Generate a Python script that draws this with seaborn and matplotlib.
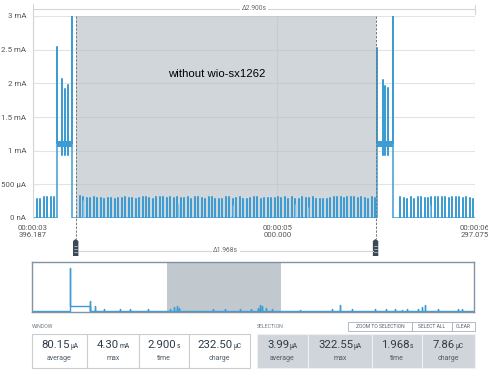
import numpy as np
import pandas as pd
import matplotlib
matplotlib.use('Agg')
import matplotlib.pyplot as plt
import matplotlib.transforms as mtransforms
from matplotlib.patches import Rectangle, Polygon
from matplotlib.offsetbox import TextArea, HPacker, AnnotationBbox
import seaborn as sns

# time window shown in the main chart (s) and the selected range
window_start = 3.396187
window_end = 6.297075
sel_start = 3.6764
sel_end = 5.6444

# idle pulses (uA), roughly one every 22.8 ms
pulse_period = 0.0228
pre_start = 3.3982
pre_heights = [293, 282, 282, 308, 308, 308, 316]
mid_start = 3.7046
mid_heights = [322, 307, 304, 292, 307, 292, 292, 282, 292, 292, 282, 304, 292, 307, 292,
               292, 282, 292, 307, 307, 292, 282, 307, 307, 307, 292, 307, 292, 317,
               292, 292, 307, 282, 307, 307, 292, 282, 307, 307, 278, 282, 282, 307, 307,
               282, 292, 307, 282, 282, 292, 307, 307, 282, 292, 292, 292, 292, 307, 292,
               307, 282, 307, 282, 282, 317, 292, 292, 307, 282, 278, 282, 282,
               292, 307, 307, 307, 292, 317, 307, 307, 292, 307, 292, 282, 307, 292]
post_start = 5.8063
post_heights = [307, 292, 282, 307, 282, 307, 307, 292, 292, 307, 307, 317, 307, 307, 292,
                317, 307, 307, 292, 307, 292, 282]

# shorter secondary pulses and tiny blips (s, uA)
second_times = [3.7243, 4.3476, 4.7085, 5.1153, 5.2006, 6.0012]
second_heights = [260, 208, 190, 208, 160, 200]
blip_times = [4.4546, 4.6999, 4.8134, 4.9773]
blip_heights = [30, 30, 30, 30]

# radio bursts (s, mA)
plateau_level = 1.11
plateau_dip = 0.94
burst_a_on, burst_a_off = 3.5556, 3.6554
burst_a_times = [3.5556, 3.5884, 3.6081, 3.6278, 3.6540]
burst_a_peaks = [2.54, 2.07, 1.92, 1.98, 4.30]
burst_b_on, burst_b_off = 5.6534, 5.7564
burst_b_times = [5.6534, 5.6908, 5.7078, 5.7256, 5.7564]
burst_b_peaks = [2.53, 2.05, 1.96, 1.93, 4.30]

y_ticks = [0, 0.5, 1, 1.5, 2, 2.5, 3]
y_labels = ['0 nA', '500 µA', '1 mA', '1.5 mA', '2 mA', '2.5 mA', '3 mA']
x_ticks = [window_start, 5.0, window_end]
x_labels = ['00:00:03\n396.187', '00:00:05\n000.000', '00:00:06\n297.075']

# overview strip (s, mA)
mini_end = 11.16
mini_burst_on, mini_burst_off = 0.96, 1.46
mini_burst_peak = 8.6
mini_spike_times = [1.46, 1.59]
mini_spike_heights = [2.0, 1.0]
mini_blip_times = [1.82, 2.22, 2.47, 2.93, 3.48, 3.59, 3.66, 3.71, 4.57, 4.87, 5.25, 5.53,
                   5.71, 5.76, 5.81, 5.91, 6.06, 6.77, 7.58, 7.78, 8.08, 8.66, 8.94, 9.17,
                   9.34, 9.47, 9.75, 9.85, 9.92, 10.25, 10.76, 10.86]
mini_blip_heights = [0.35, 0.35, 0.35, 0.35, 0.5, 0.8, 1.1, 0.6, 0.4, 0.4, 0.4, 0.4,
                     0.65, 1.2, 1.1, 0.6, 0.4, 0.3, 0.5, 1.2, 0.4, 0.4, 0.4, 0.4,
                     0.3, 0.4, 0.5, 0.8, 1.2, 0.4, 0.4, 0.4]

window_stats = [('80.15', 'µA', 'average'), ('4.30', 'mA', 'max'),
                ('2.900', 's', 'time'), ('232.50', 'µC', 'charge')]
selection_stats = [('3.99', 'µA', 'average'), ('322.55', 'µA', 'max'),
                   ('1.968', 's', 'time'), ('7.86', 'µC', 'charge')]

sns.set_theme(style='white')
plt.rcParams['font.family'] = ['Roboto', 'DejaVu Sans']

BLUE = '#3d9dd3'
W, H = 488, 375
fig = plt.figure(figsize=(W / 100, H / 100), dpi=100, facecolor='white')


def rect(x0, y0, x1, y1):
    return [x0 / W, 1 - y1 / H, (x1 - x0) / W, (y1 - y0) / H]


ui = fig.add_axes([0, 0, 1, 1], zorder=0)
ui.set_xlim(0, W)
ui.set_ylim(H, 0)
ui.axis('off')

# ---------------- main trace ----------------
xs, ys = [window_start], [0.0]


def add_pulses(start, heights):
    for i, h in enumerate(heights):
        t = start + i * pulse_period
        xs.extend([t, t, t])
        ys.extend([0, h / 1000, 0])


def add_burst(on, off, times, peaks):
    xs.extend([on, on])
    ys.extend([0, plateau_level])
    for t, p in zip(times, peaks):
        xs.extend([t, t, t, t])
        ys.extend([plateau_level, p, plateau_dip, plateau_level])
    xs.extend([off, off])
    ys.extend([plateau_level, 0])


add_pulses(pre_start, pre_heights)
add_burst(burst_a_on, burst_a_off, burst_a_times, burst_a_peaks)
add_pulses(mid_start, mid_heights)
add_burst(burst_b_on, burst_b_off, burst_b_times, burst_b_peaks)
add_pulses(post_start, post_heights)
xs.append(window_end)
ys.append(0.0)
trace = pd.DataFrame({'t': xs, 'i': ys})

ax = fig.add_axes(rect(33, 16, 475, 218), zorder=2)
ax.axvspan(sel_start, sel_end, color='#b2bbc0', alpha=0.6, lw=0, zorder=1.5)
sns.lineplot(data=trace, x='t', y='i', sort=False, estimator=None, color=BLUE,
             lw=1.1, ax=ax, zorder=3)
for on, off in [(burst_a_on, burst_a_off), (burst_b_on, burst_b_off)]:
    ax.fill_between([on, off], plateau_level - 0.05, plateau_level + 0.04, color=BLUE,
                    lw=0, zorder=3)
ax.vlines(second_times, 0, np.array(second_heights) / 1000, color='#86c1e3', lw=1, zorder=3)
ax.vlines(blip_times, 0, np.array(blip_heights) / 1000, color=BLUE, lw=1, zorder=3)

ax.set_xlim(window_start, window_end)
ax.set_ylim(0, 3)
ax.set_xticks(x_ticks)
ax.set_xticklabels(x_labels, fontsize=5.6, color='#555555', linespacing=1.25)
ax.set_yticks(y_ticks)
ax.set_yticklabels(y_labels, fontsize=5.7, color='#555555')
ax.tick_params(length=0, axis='y', pad=5)
ax.tick_params(length=0, axis='x', pad=5)
ax.set_xlabel('')
ax.set_ylabel('')
ax.grid(True, color='#e3e3e3', lw=0.8, zorder=1)
ax.set_axisbelow(True)
for s in ax.spines.values():
    s.set_visible(False)

ax.text(0.5 * (sel_start + sel_end) - 0.06, 2.14, 'without wio-sx1262',
        family=['Liberation Sans', 'DejaVu Sans'], fontsize=8.2, color='black',
        ha='center', va='center', zorder=5)

trans = mtransforms.blended_transform_factory(ax.transData, ax.transAxes)
ph = 1 / 202                                   # one pixel in axes height
pw = (window_end - window_start) / 442         # one pixel in seconds

# left axis line and top span marker
ax.plot([window_start, window_start], [0, 1 + 12 * ph], transform=trans, color='#d5d5d5',
        lw=0.8, clip_on=False, zorder=4)
ax.plot([window_start, window_end], [1 + 7 * ph, 1 + 7 * ph], transform=trans,
        color='#d5d5d5', lw=0.8, clip_on=False)
ax.plot([window_end, window_end], [1 + 2 * ph, 1 + 11 * ph], transform=trans,
        color='#d5d5d5', lw=0.8, clip_on=False)
ax.text(0.5 * (window_start + window_end), 1 + 7 * ph, 'Δ2.900s', transform=trans,
        fontsize=4.8, color='#666666', ha='center', va='center',
        bbox=dict(fc='white', ec='none', pad=1.2))

# selection cursors and handles
for t in [sel_start, sel_end]:
    ax.plot([t, t], [1, -21 * ph], transform=trans, color='#777777', lw=0.7,
            ls=(0, (2.5, 1.5)), clip_on=False, zorder=4)
    hw = 2.7 * pw
    ax.add_patch(Polygon([(t - hw, -23 * ph), (t, -21 * ph), (t + hw, -23 * ph),
                          (t + hw, -38 * ph), (t - hw, -38 * ph)], closed=True,
                         transform=trans, fc='#3b4856', ec='none', clip_on=False))
    for k in [-28, -31, -34]:
        ax.plot([t - 1.5 * pw, t + 1.5 * pw], [k * ph, k * ph], transform=trans,
                color='#c9d0d6', lw=0.5, clip_on=False)
ax.plot([sel_start + 3 * pw, sel_end - 3 * pw], [-33 * ph, -33 * ph], transform=trans,
        color='#d5d5d5', lw=0.8, clip_on=False)
ax.text(0.5 * (sel_start + sel_end), -33 * ph, 'Δ1.968s', transform=trans,
        fontsize=4.8, color='#666666', ha='center', va='center',
        bbox=dict(fc='white', ec='none', pad=1.2))

# ---------------- overview strip ----------------
mx, my = [0.0, mini_burst_on, mini_burst_on, mini_burst_on, mini_burst_off, mini_burst_off],\
         [0.0, 0.0, mini_burst_peak, 1.1, 1.1, 0.0]
for t, h in zip(mini_spike_times + mini_blip_times, mini_spike_heights + mini_blip_heights):
    mx.extend([t, t, t])
    my.extend([0, h, 0])
mx.append(mini_end)
my.append(0.0)
overview = pd.DataFrame({'t': mx, 'i': my})

mini = fig.add_axes(rect(32, 262, 474, 312), zorder=2)
mini.axvspan(window_start, window_end, color='#c1c8ce', lw=0)
sns.lineplot(data=overview, x='t', y='i', sort=False, estimator=None, color=BLUE, lw=1,
             ax=mini)
mini.set_xlim(0, mini_end)
mini.set_ylim(-0.2, 9.8)
mini.set_xticks([])
mini.set_yticks([])
mini.set_xlabel('')
mini.set_ylabel('')
for s in mini.spines.values():
    s.set_color('#8293a3')
    s.set_linewidth(1)

# ---------------- stats boxes ----------------
ui.text(32, 327, 'WINDOW', fontsize=3.8, color='#707c88', va='center')
ui.text(257, 327, 'SELECTION', fontsize=3.8, color='#707c88', va='center')

btn_edges = [348, 412, 452, 475]
btn_labels = ['ZOOM TO SELECTION', 'SELECT ALL', 'CLEAR']
for x0, x1, lab in zip(btn_edges[:-1], btn_edges[1:], btn_labels):
    ui.add_patch(Rectangle((x0, 322), x1 - x0, 9, fc='white', ec='#a8b0b8', lw=0.6))
    ui.text((x0 + x1) / 2, 326.7, lab, fontsize=3.6, color='#555f69', ha='center',
            va='center')


def stat_row(edges, stats, fill, edge):
    for x0, x1, (val, unit, lab) in zip(edges[:-1], edges[1:], stats):
        ui.add_patch(Rectangle((x0, 334), x1 - x0, 34, fc=fill, ec=edge, lw=0.8))
        cx = (x0 + x1) / 2
        box = HPacker(children=[TextArea(val, textprops=dict(fontsize=8.2, color='#2f3b47')),
                                TextArea(unit, textprops=dict(fontsize=4.8, color='#2f3b47'))],
                      align='baseline', pad=0, sep=0.5)
        ui.add_artist(AnnotationBbox(box, (cx, 345), xycoords='data', frameon=False,
                                     box_alignment=(0.5, 0.5), pad=0))
        ui.text(cx, 358, lab, fontsize=5, color='#4f5d6b', ha='center', va='center')


stat_row([32, 87, 139, 189, 250], window_stats, 'white', '#c9ced3')
stat_row([257, 308, 372, 422, 475], selection_stats, '#cfd5da', '#eef0f2')

fig.savefig('out.png', dpi=100, facecolor='white')
